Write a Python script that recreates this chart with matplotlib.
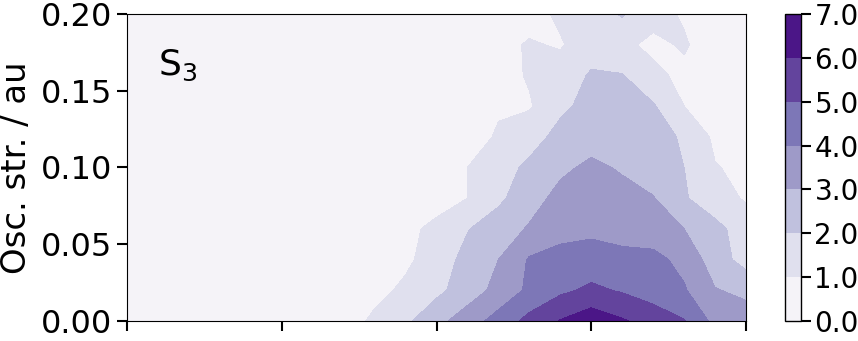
import matplotlib
matplotlib.use("Agg")
import matplotlib.pyplot as plt
import numpy as np

# excitation energy grid (x, no tick labels shown) and osc. strength grid (y)
energy = [0.0, 0.2, 0.4, 0.6, 0.8, 1.0, 1.2, 1.4, 1.6, 1.8, 2.0,
          2.2, 2.4, 2.6, 2.8, 3.0, 3.2, 3.4, 3.6, 3.8, 4.0]
osc = [0.00, 0.02, 0.04, 0.06, 0.08, 0.10, 0.12, 0.14, 0.16, 0.18, 0.20]

# density, one row per osc. strength value
row_000 = [0.2, 0.2, 0.2, 0.2, 0.2, 0.2, 0.3, 0.5, 1.2, 1.8, 2.7, 3.5, 4.4, 5.3, 6.05, 6.6, 6.1, 5.6, 5.05, 3.7, 3.4]
row_002 = [0.1, 0.1, 0.1, 0.1, 0.1, 0.2, 0.2, 0.4, 0.7, 1.2, 1.75, 2.5, 3.3, 4.2, 4.8, 5.2, 4.9, 4.5, 4.1, 3.05, 2.8]
row_004 = [0.1, 0.1, 0.1, 0.1, 0.1, 0.1, 0.2, 0.3, 0.5, 0.8, 1.5, 2.3, 3.0, 4.1, 4.3, 4.4, 4.3, 4.3, 3.7, 2.5, 1.6]
row_006 = [0.1, 0.1, 0.1, 0.1, 0.1, 0.1, 0.1, 0.2, 0.4, 0.7, 1.3, 1.95, 2.5, 3.1, 3.7, 3.8, 3.6, 3.4, 3.0, 2.3, 1.5]
row_008 = [0.1, 0.1, 0.1, 0.1, 0.1, 0.1, 0.1, 0.1, 0.2, 0.3, 0.5, 1.0, 1.8, 2.6, 3.3, 3.4, 3.3, 3.05, 2.1, 1.4, 0.9]
row_010 = [0.1, 0.1, 0.1, 0.1, 0.1, 0.1, 0.1, 0.1, 0.2, 0.3, 0.6, 1.0, 1.6, 2.2, 2.8, 3.2, 2.9, 2.5, 2.0, 1.05, 0.8]
row_012 = [0.1, 0.1, 0.1, 0.1, 0.1, 0.1, 0.1, 0.1, 0.1, 0.2, 0.3, 0.6, 1.1, 1.6, 2.3, 2.6, 2.5, 2.3, 1.9, 0.8, 0.5]
row_014 = [0.1, 0.1, 0.1, 0.1, 0.1, 0.1, 0.1, 0.1, 0.1, 0.2, 0.3, 0.5, 0.9, 0.9, 1.8, 2.3, 2.4, 2.1, 1.0, 0.6, 0.4]
row_016 = [0.1, 0.1, 0.1, 0.1, 0.1, 0.1, 0.1, 0.1, 0.1, 0.1, 0.2, 0.4, 0.6, 1.1, 1.5, 2.1, 2.05, 1.2, 0.8, 0.4, 0.3]
row_018 = [0.1, 0.1, 0.1, 0.1, 0.1, 0.1, 0.1, 0.1, 0.1, 0.1, 0.1, 0.2, 0.7, 1.1, 0.9, 1.6, 1.2, 0.8, 1.1, 0.5, 0.3]
row_020 = [0.1, 0.1, 0.1, 0.1, 0.1, 0.1, 0.1, 0.1, 0.1, 0.1, 0.1, 0.2, 0.4, 0.6, 1.2, 1.5, 2.1, 1.3, 0.9, 0.5, 0.4]

levels = [0, 1, 2, 3, 4, 5, 6, 7]
state_label = "S$_3$"

density = np.array([row_000, row_002, row_004, row_006, row_008, row_010,
                    row_012, row_014, row_016, row_018, row_020])

fig = plt.figure(figsize=(8.58, 3.41), dpi=100)
ax = fig.add_axes([0.148, 0.059, 0.7215, 0.900])
cax = fig.add_axes([0.915, 0.059, 0.018, 0.900])

cs = ax.contourf(energy, osc, density, levels=levels, cmap="Purples")
ax.set_xlim(0, 4)
ax.set_ylim(0, 0.2)
ax.set_xticks([0, 1, 2, 3, 4])
ax.set_xticklabels([])
ax.set_yticks([0.0, 0.05, 0.10, 0.15, 0.20])
ax.set_yticklabels(["0.00", "0.05", "0.10", "0.15", "0.20"])
ax.tick_params(direction="out", length=7, width=1.5, labelsize=23)
ax.set_ylabel("Osc. str. / au", fontsize=24.5, labelpad=6)
ax.text(0.05, 0.8, state_label, transform=ax.transAxes, fontsize=26)

cb = fig.colorbar(cs, cax=cax, format="%.1f")
cb.set_ticks(levels)
cb.ax.tick_params(direction="out", length=7, width=1.5, labelsize=20, pad=3)
cb.outline.set_linewidth(1.0)

fig.savefig("out.png", dpi=100)
